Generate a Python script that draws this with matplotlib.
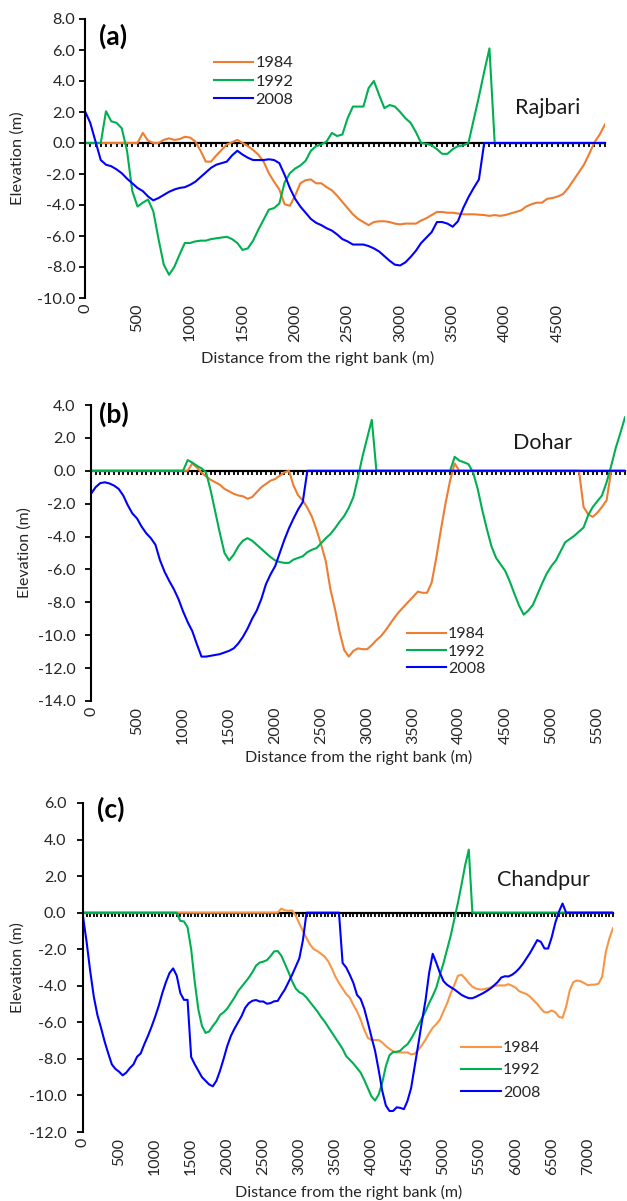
import numpy as np
import matplotlib
matplotlib.use("Agg")
import matplotlib.pyplot as plt
from matplotlib.ticker import FuncFormatter

plt.rcParams['font.family'] = ['Lato', 'DejaVu Sans']
plt.rcParams['axes.unicode_minus'] = False

years = ["1984", "1992", "2008"]
colors_ab = ["#ED7D31", "#00B050", "#0000FF"]
colors_c = ["#F79646", "#00B050", "#0000FF"]

# ---------------- Panel (a) Rajbari ----------------
a84_x = [0, 500, 550, 600, 650, 700, 750, 800, 850, 900, 950, 1000, 1050, 1100, 1150, 1200, 1250, 1300, 1350, 1400,
         1450, 1500, 1550, 1600, 1650, 1700, 1750, 1800, 1850, 1900, 1950, 2000, 2050, 2100, 2150, 2200, 2250, 2300,
         2350, 2400, 2450, 2500, 2550, 2600, 2650, 2700, 2750, 2800, 2850, 2900, 2950, 3000, 3050, 3100, 3150, 3200,
         3250, 3300, 3350, 3400, 3450, 3500, 3600, 3700, 3800, 3850, 3900, 3950, 4000, 4050, 4100, 4150, 4200, 4250,
         4300, 4350, 4400, 4450, 4500, 4550, 4600, 4650, 4700, 4750, 4800, 4850, 4900, 4950]
a84_y = [0, 0, 0.65, 0.15, 0, 0, 0.2, 0.3, 0.2, 0.25, 0.4, 0.35, 0.1, -0.5, -1.2, -1.2, -0.8, -0.45, -0.1, 0.05,
         0.2, 0.0, -0.2, -0.45, -0.75, -1.2, -1.95, -2.5, -3.0, -3.95, -4.05, -3.4, -2.6, -2.4, -2.35, -2.6, -2.6, -2.85,
         -3.05, -3.4, -3.8, -4.2, -4.6, -4.9, -5.1, -5.3, -5.1, -5.05, -5.05, -5.1, -5.2, -5.25, -5.2, -5.2, -5.2, -5.0,
         -4.85, -4.65, -4.45, -4.45, -4.5, -4.5, -4.6, -4.6, -4.65, -4.7, -4.65, -4.7, -4.65, -4.55, -4.45, -4.35, -4.1, -3.95,
         -3.85, -3.85, -3.6, -3.55, -3.45, -3.3, -2.9, -2.4, -1.9, -1.4, -0.7, 0.05, 0.55, 1.2]

a92_x = [0, 150, 200, 250, 300, 350, 400, 450, 500, 550, 600, 650, 700, 750, 800, 850, 900, 950, 1000, 1050, 1100,
         1150, 1200, 1250, 1300, 1350, 1400, 1450, 1500, 1550, 1600, 1650, 1700, 1750, 1800, 1850, 1900, 1950, 2000,
         2050, 2100, 2150, 2200, 2250, 2300, 2350, 2400, 2450, 2500, 2550, 2600, 2650, 2700, 2750, 2800, 2850, 2900,
         2950, 3000, 3050, 3100, 3150, 3200, 3250, 3300, 3350, 3400, 3450, 3500, 3550, 3600, 3650, 3700, 3750, 3800,
         3850, 3900, 4950]
a92_y = [0, 0, 2.05, 1.4, 1.3, 0.95, -0.5, -3.1, -4.1, -3.85, -3.65, -4.4, -6.2, -7.85, -8.5, -8.0, -7.2, -6.45, -6.45, -6.35, -6.3,
         -6.3, -6.2, -6.15, -6.1, -6.05, -6.2, -6.45, -6.9, -6.8, -6.3, -5.6, -4.95, -4.3, -4.2, -3.9, -2.55, -1.95, -1.65,
         -1.45, -1.15, -0.5, -0.2, -0.1, 0.1, 0.65, 0.45, 0.55, 1.6, 2.35, 2.35, 2.35, 3.55, 4.0, 3.1, 2.25, 2.45,
         2.35, 2.0, 1.6, 1.3, 0.7, 0.0, -0.05, -0.15, -0.4, -0.7, -0.7, -0.4, -0.2, -0.15, 0.0, 1.5, 3.0, 4.6,
         6.1, 0, 0]

a08_x = [0, 50, 100, 150, 200, 250, 300, 350, 400, 450, 500, 550, 600, 650, 700, 750, 800, 850, 900, 950, 1000,
         1050, 1100, 1150, 1200, 1250, 1300, 1350, 1400, 1450, 1500, 1550, 1600, 1650, 1700, 1750, 1800, 1850, 1900,
         1950, 2000, 2050, 2100, 2150, 2200, 2250, 2300, 2350, 2400, 2450, 2500, 2550, 2600, 2650, 2700, 2750, 2800,
         2850, 2900, 2950, 3000, 3050, 3100, 3150, 3200, 3250, 3300, 3350, 3400, 3450, 3500, 3550, 3600, 3650, 3700,
         3750, 3800, 4950]
a08_y = [2.05, 1.3, 0.1, -1.1, -1.4, -1.5, -1.7, -1.95, -2.3, -2.6, -2.9, -3.1, -3.45, -3.7, -3.55, -3.35, -3.15, -3.0, -2.9, -2.85, -2.7,
         -2.5, -2.2, -1.9, -1.6, -1.4, -1.3, -1.2, -0.8, -0.5, -0.75, -0.95, -1.1, -1.1, -1.1, -1.05, -1.1, -1.3, -2.05,
         -2.9, -3.6, -4.1, -4.5, -4.9, -5.15, -5.3, -5.5, -5.65, -5.9, -6.2, -6.35, -6.55, -6.55, -6.55, -6.65, -6.8, -7.0,
         -7.3, -7.6, -7.85, -7.9, -7.7, -7.35, -6.95, -6.45, -6.1, -5.75, -5.1, -5.1, -5.2, -5.4, -5.05, -4.2, -3.5, -2.9,
         -2.35, 0, 0]

# ---------------- Panel (b) Dohar ----------------
b84_x = [0, 1050, 1100, 1150, 1200, 1250, 1300, 1350, 1400, 1450, 1500, 1550, 1600, 1650, 1700, 1750, 1800, 1850,
         1900, 1950, 2000, 2050, 2100, 2150, 2200, 2250, 2300, 2350, 2400, 2450, 2500, 2550, 2600, 2650, 2700, 2750,
         2800, 2850, 2900, 2950, 3000, 3050, 3100, 3150, 3200, 3250, 3300, 3350, 3400, 3450, 3500, 3550, 3600, 3650,
         3700, 3750, 3800, 3850, 3900, 3950, 4000, 5300, 5350, 5400, 5450, 5500, 5550, 5600, 5650, 5800]
b84_y = [0, 0, 0.45, 0.2, -0.1, -0.35, -0.55, -0.7, -0.85, -1.1, -1.25, -1.4, -1.5, -1.55, -1.7, -1.6, -1.3, -1.0,
         -0.8, -0.6, -0.5, -0.3, -0.1, 0.0, -0.9, -1.5, -1.8, -2.25, -2.8, -3.6, -4.5, -5.5, -7.2, -8.4, -9.8, -10.9,
         -11.3, -10.95, -10.8, -10.85, -10.85, -10.6, -10.3, -10.05, -9.7, -9.3, -8.9, -8.55, -8.25, -7.95, -7.65, -7.35, -7.42, -7.42,
         -6.8, -5.3, -3.6, -2.0, -0.6, 0.45, 0, 0, -2.2, -2.65, -2.8, -2.55, -2.2, -1.8, 0, 0]

b92_x = [0, 1000, 1050, 1100, 1150, 1200, 1250, 1300, 1350, 1400, 1450, 1500, 1550, 1600, 1650, 1700, 1750, 1800,
         1850, 1900, 1950, 2000, 2050, 2100, 2150, 2200, 2250, 2300, 2350, 2400, 2450, 2500, 2550, 2600, 2650, 2700,
         2750, 2800, 2850, 2900, 2950, 3000, 3050, 3100, 3900, 3950, 4000, 4050, 4100, 4150, 4200, 4250, 4300, 4350,
         4400, 4450, 4500, 4550, 4600, 4650, 4700, 4750, 4800, 4850, 4900, 4950, 5000, 5050, 5100, 5150, 5200, 5250,
         5300, 5350, 5400, 5450, 5500, 5550, 5600, 5650, 5700, 5750, 5800]
b92_y = [0, 0, 0.65, 0.5, 0.3, 0.15, -0.1, -1.2, -2.5, -3.8, -5.0, -5.45, -5.1, -4.6, -4.25, -4.1, -4.25, -4.5,
         -4.75, -5.0, -5.25, -5.45, -5.55, -5.6, -5.6, -5.4, -5.3, -5.2, -4.95, -4.8, -4.7, -4.4, -4.1, -3.85, -3.5, -3.1,
         -2.75, -2.25, -1.6, -0.4, 0.9, 2.0, 3.1, 0, 0, 0.85, 0.62, 0.52, 0.4, -0.1, -1.1, -2.4, -3.55, -4.6,
         -5.3, -5.7, -6.1, -6.75, -7.5, -8.2, -8.75, -8.5, -8.15, -7.5, -6.85, -6.25, -5.8, -5.45, -4.9, -4.35, -4.15, -3.95,
         -3.7, -3.45, -2.7, -2.2, -1.85, -1.5, -0.7, 0.3, 1.4, 2.3, 3.25]

b08_x = [0, 50, 100, 150, 200, 250, 300, 350, 400, 450, 500, 550, 600, 650, 700, 750, 800, 850, 900, 950, 1000,
         1050, 1100, 1150, 1200, 1250, 1300, 1350, 1400, 1450, 1500, 1550, 1600, 1650, 1700, 1750, 1800, 1850, 1900,
         1950, 2000, 2050, 2100, 2150, 2200, 2250, 2300, 2350, 5800]
b08_y = [-1.4, -1.0, -0.75, -0.7, -0.77, -0.9, -1.1, -1.5, -2.1, -2.6, -2.9, -3.4, -3.8, -4.1, -4.5, -5.45, -6.15, -6.7, -7.2, -7.8, -8.55,
         -9.2, -9.75, -10.55, -11.3, -11.3, -11.25, -11.2, -11.15, -11.05, -10.95, -10.8, -10.5, -10.1, -9.6, -9.0, -8.5, -7.8, -6.9,
         -6.3, -5.8, -5.0, -4.2, -3.5, -2.9, -2.35, -1.9, 0, 0]

# ---------------- Panel (c) Chandpur ----------------
c84_x = [0, 2700, 2750, 2800, 2850, 2900, 2950, 3000, 3050, 3100, 3150, 3200, 3250, 3300, 3350, 3400, 3450, 3500,
         3550, 3600, 3650, 3700, 3750, 3800, 3850, 3900, 3950, 4000, 4050, 4100, 4150, 4200, 4250, 4300, 4350, 4400,
         4450, 4500, 4550, 4600, 4650, 4700, 4750, 4800, 4850, 4900, 4950, 5000, 5050, 5100, 5150, 5200, 5250, 5300,
         5350, 5400, 5450, 5500, 5550, 5600, 5650, 5700, 5750, 5800, 5850, 5900, 5950, 6000, 6050, 6100, 6150, 6200,
         6250, 6300, 6350, 6400, 6450, 6500, 6550, 6600, 6650, 6700, 6750, 6800, 6850, 6900, 6950, 7000, 7050, 7100,
         7150, 7200, 7250, 7300, 7350]
c84_y = [0, 0, 0.22, 0.13, 0.1, 0.12, -0.15, -0.6, -1.0, -1.4, -1.75, -2.0, -2.1, -2.25, -2.4, -2.66, -3.05, -3.5,
         -3.85, -4.15, -4.45, -4.65, -5.05, -5.4, -5.85, -6.4, -6.85, -6.97, -6.97, -6.97, -7.1, -7.3, -7.45, -7.58, -7.65, -7.65,
         -7.65, -7.65, -7.75, -7.72, -7.5, -7.25, -6.95, -6.6, -6.3, -6.1, -5.85, -5.4, -4.95, -4.4, -3.95, -3.45, -3.4, -3.6,
         -3.85, -4.05, -4.15, -4.2, -4.2, -4.15, -4.1, -4.02, -3.98, -3.98, -3.98, -3.91, -4.0, -4.1, -4.3, -4.38, -4.45, -4.6,
         -4.8, -5.0, -5.25, -5.45, -5.45, -5.35, -5.45, -5.7, -5.75, -5.15, -4.25, -3.8, -3.71, -3.75, -3.85, -3.97, -3.94, -3.94,
         -3.88, -3.5, -2.15, -1.4, -0.85]

c92_x = [0, 1300, 1350, 1400, 1450, 1500, 1550, 1600, 1650, 1700, 1750, 1800, 1850, 1900, 1950, 2000, 2050, 2100,
         2150, 2200, 2250, 2300, 2350, 2400, 2450, 2500, 2550, 2600, 2650, 2700, 2750, 2800, 2850, 2900, 2950, 3000,
         3050, 3100, 3150, 3200, 3250, 3300, 3350, 3400, 3450, 3500, 3550, 3600, 3650, 3700, 3750, 3800, 3850, 3900,
         3950, 4000, 4050, 4100, 4150, 4200, 4250, 4300, 4350, 4400, 4450, 4500, 4550, 4600, 4650, 4700, 4750, 4800,
         4850, 4900, 4950, 5000, 5050, 5100, 5150, 5200, 5250, 5300, 5350, 5400, 7350]
c92_y = [0, 0, -0.45, -0.48, -0.8, -2.0, -3.8, -5.3, -6.2, -6.58, -6.5, -6.2, -5.95, -5.6, -5.45, -5.25, -4.95, -4.65,
         -4.3, -4.05, -3.8, -3.55, -3.25, -2.9, -2.73, -2.68, -2.6, -2.38, -2.12, -2.1, -2.35, -2.8, -3.25, -3.75, -4.15, -4.35,
         -4.45, -4.65, -4.9, -5.15, -5.4, -5.7, -5.95, -6.25, -6.55, -6.85, -7.15, -7.45, -7.85, -8.05, -8.26, -8.5, -8.75, -9.15,
         -9.6, -10.05, -10.28, -9.95, -9.3, -8.4, -7.8, -7.63, -7.61, -7.55, -7.35, -7.2, -6.9, -6.55, -6.15, -5.78, -5.4, -4.95,
         -4.55, -4.1, -3.4, -2.75, -2.0, -1.25, -0.35, 0.55, 1.55, 2.6, 3.45, 0, 0]

c08_x = [0, 50, 100, 150, 200, 250, 300, 350, 400, 450, 500, 550, 600, 650, 700, 750, 800, 850, 900, 950, 1000,
         1050, 1100, 1150, 1200, 1250, 1300, 1350, 1400, 1450, 1500, 1550, 1600, 1650, 1700, 1750, 1800, 1850, 1900,
         1950, 2000, 2050, 2100, 2150, 2200, 2250, 2300, 2350, 2400, 2450, 2500, 2550, 2600, 2650, 2700, 2750, 2800,
         2850, 2900, 2950, 3000, 3050, 3100, 3550, 3600, 3650, 3700, 3750, 3800, 3850, 3900, 3950, 4000, 4050, 4100,
         4150, 4200, 4250, 4300, 4350, 4400, 4450, 4500, 4550, 4600, 4650, 4700, 4750, 4800, 4850, 4900, 4950, 5000,
         5050, 5100, 5150, 5200, 5250, 5300, 5350, 5400, 5450, 5500, 5550, 5600, 5650, 5700, 5750, 5800, 5850, 5900,
         5950, 6000, 6050, 6100, 6150, 6200, 6250, 6300, 6350, 6400, 6450, 6500, 6550, 6600, 6650, 6700, 7350]
c08_y = [-0.2, -1.6, -3.2, -4.6, -5.6, -6.3, -7.05, -7.7, -8.3, -8.55, -8.7, -8.9, -8.75, -8.5, -8.3, -7.88, -7.7, -7.2, -6.75, -6.25, -5.7,
         -5.1, -4.4, -3.8, -3.3, -3.05, -3.45, -4.4, -4.77, -4.77, -7.9, -8.3, -8.65, -9.0, -9.2, -9.4, -9.5, -9.2, -8.65,
         -8.0, -7.3, -6.75, -6.35, -6.0, -5.65, -5.2, -4.95, -4.82, -4.78, -4.86, -4.86, -4.98, -4.95, -4.85, -4.83, -4.5, -4.2,
         -3.8, -3.4, -2.95, -2.5, -1.5, 0, 0, -2.75, -3.0, -3.4, -3.85, -4.5, -4.72, -5.25, -6.0, -6.8, -7.55, -8.6,
         -9.75, -10.55, -10.85, -10.85, -10.65, -10.68, -10.75, -10.3, -9.6, -8.4, -7.2, -5.95, -4.8, -3.3, -2.25, -2.75, -3.3, -3.75,
         -3.95, -4.08, -4.2, -4.35, -4.5, -4.6, -4.68, -4.68, -4.6, -4.5, -4.4, -4.28, -4.15, -3.98, -3.8, -3.55, -3.48, -3.49,
         -3.4, -3.25, -3.05, -2.8, -2.5, -2.2, -1.85, -1.5, -1.6, -1.96, -1.96, -1.35, -0.55, 0.05, 0.5, 0, 0]

W, H = 627, 1201
fig = plt.figure(figsize=(W / 100, H / 100), dpi=100)


def fx(px):
    return px / W


def fy(py):
    return 1 - py / H


panels = [
    dict(box=(85, 19, 605, 298), ylim=(-10, 8), xmax=4950,
         series=[(a84_x, a84_y), (a92_x, a92_y), (a08_x, a08_y)], colors=colors_ab,
         tag="(a)", tag_xy=(99, 36), name="Rajbari", name_xy=(548, 108),
         leg_xy=(214, 56), leg_space=0.22, hl=2.4, xlabel_xy=(318, 358), ylabel_x=18, fs=11.8, ypad=3),
    dict(box=(91, 405, 625, 701), ylim=(-14, 4), xmax=5800,
         series=[(b84_x, b84_y), (b92_x, b92_y), (b08_x, b08_y)], colors=colors_ab,
         tag="(b)", tag_xy=(99, 414), name="Dohar", name_xy=(543, 443),
         leg_xy=(407, 627), leg_space=0.2, hl=2.45, xlabel_xy=(359, 757), ylabel_x=25, fs=11.5, ypad=7),
    dict(box=(83, 803, 613, 1132), ylim=(-12, 6), xmax=7350,
         series=[(c84_x, c84_y), (c92_x, c92_y), (c08_x, c08_y)], colors=colors_c,
         tag="(c)", tag_xy=(97, 809), name="Chandpur", name_xy=(543, 880),
         leg_xy=(461, 1041), leg_space=0.5, hl=2.5, xlabel_xy=(349, 1192), ylabel_x=18, fs=11.5, ypad=8),
]

fmt = FuncFormatter(lambda v, p: f"{v:.1f}")

for P in panels:
    l, t, r, b = P['box']
    ax = fig.add_axes([fx(l), fy(b), fx(r) - fx(l), fy(t) - fy(b)])
    ymin, ymax = P['ylim']
    xmax = P['xmax']
    ax.set_xlim(0, xmax)
    ax.set_ylim(ymin, ymax)

    # zero axis with dense category tick marks
    zero_frac = (0 - ymin) / (ymax - ymin)
    sec = ax.secondary_xaxis(zero_frac)
    sec.set_alignment('bottom')
    sec.set_xticks(np.arange(0, xmax + 1, 50))
    sec.tick_params(axis='x', direction='out', length=3.2, width=1.3, color='black',
                    labelbottom=False, labeltop=False)
    sec.spines['bottom'].set_linewidth(1.6)
    sec.spines['bottom'].set_color('black')

    for (xs, ys), c, lab in zip(P['series'], P['colors'], years):
        ax.plot(xs, ys, color=c, lw=1.5, label=lab, solid_joinstyle='round')

    for s in ['top', 'right', 'bottom']:
        ax.spines[s].set_visible(False)
    ax.spines['left'].set_linewidth(1.5)
    ax.set_yticks(np.arange(ymin, ymax + 0.1, 2))
    ax.yaxis.set_major_formatter(fmt)
    ax.tick_params(axis='y', direction='out', length=4, width=1.3, labelsize=P['fs'],
                   pad=P['ypad'], colors='black', labelcolor='#262626')
    ax.set_xticks(np.arange(0, xmax + 1, 500))
    ax.tick_params(axis='x', length=0, labelsize=P['fs'], labelrotation=90, pad=4,
                   labelcolor='#262626')

    fig.text(fx(P['xlabel_xy'][0]), fy(P['xlabel_xy'][1]), "Distance from the right bank (m)",
             ha='center', va='center', fontsize=P['fs'], color='#262626')
    fig.text(fx(P['ylabel_x']), fy((t + b) / 2), "Elevation (m)", rotation=90,
             ha='center', va='center', fontsize=P['fs'], color='#262626')
    fig.text(fx(P['tag_xy'][0]), fy(P['tag_xy'][1]), P['tag'], ha='left', va='center',
             fontsize=19, fontweight='bold', color='black')
    fig.text(fx(P['name_xy'][0]), fy(P['name_xy'][1]), P['name'], ha='center', va='center',
             fontsize=15.5, color='#1a1a1a')

    leg = ax.legend(loc='upper left', bbox_to_anchor=(fx(P['leg_xy'][0]), fy(P['leg_xy'][1])),
                    bbox_transform=fig.transFigure, frameon=False, fontsize=P['fs'],
                    handlelength=P['hl'], handletextpad=0.12, borderpad=0, borderaxespad=0,
                    labelspacing=P['leg_space'])
    for txt in leg.get_texts():
        txt.set_color('#262626')

fig.savefig("out.png", dpi=100)
